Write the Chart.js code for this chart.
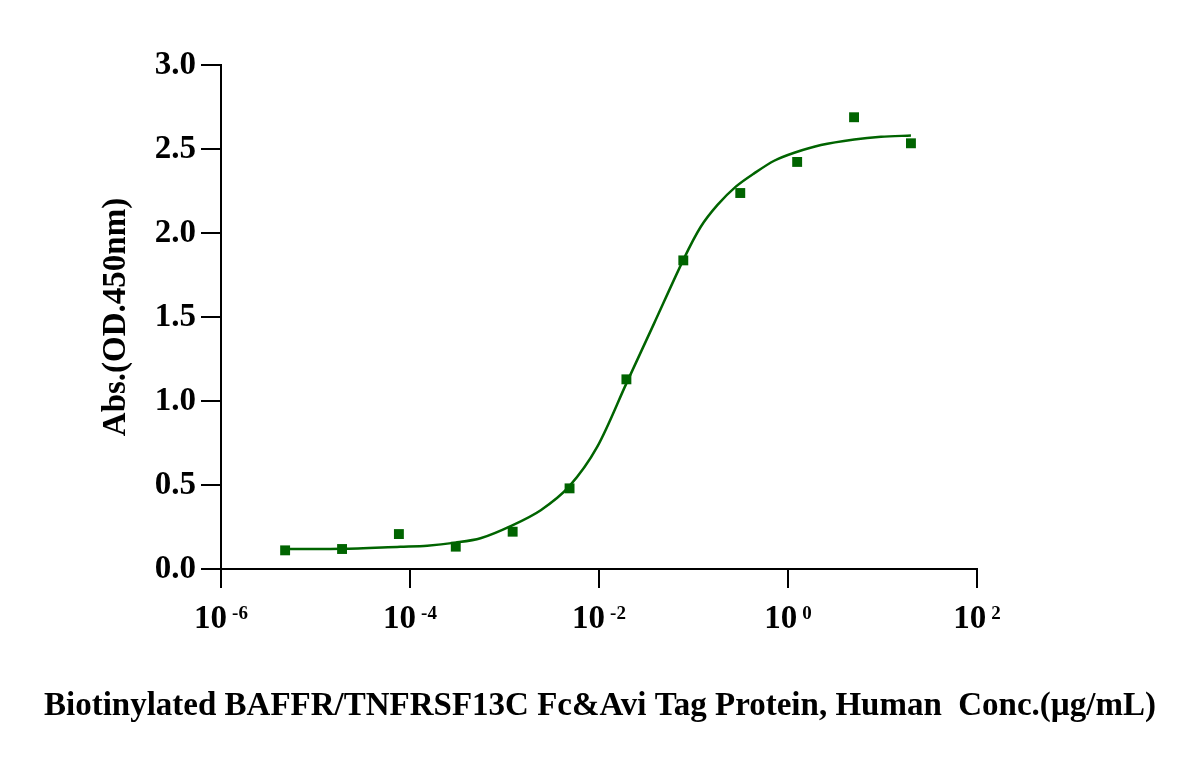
<!DOCTYPE html>
<html>
<head>
<meta charset="utf-8">
<script src="https://cdn.jsdelivr.net/npm/chart.js@4.4.1/dist/chart.umd.min.js"></script>
<style>
  html, body { margin: 0; padding: 0; background: #fff; }
  #wrap { width: 1200px; height: 765px; }
</style>
</head>
<body>
<div id="wrap"><canvas id="elisaChart" width="1200" height="765"></canvas></div>
<script>
// ---- DATA ----
// measured points: 4-fold dilution series, ug/mL
const concentrations = [4.77e-6, 1.91e-5, 7.63e-5, 3.05e-4, 1.22e-3, 4.88e-3, 0.0195, 0.078, 0.3125, 1.25, 5, 20];
const absorbance = [0.111, 0.119, 0.208, 0.133, 0.222, 0.480, 1.129, 1.837, 2.238, 2.423, 2.689, 2.534];

// fitted curve, sampled along the drawn line
const curveConc = [4.8e-6, 1.91e-5, 7.9e-5, 1.52e-4, 3.03e-4, 5.57e-4, 1.21e-3, 2.42e-3, 4.81e-3, 9.6e-3, 0.0195, 0.0383,
                   0.0794, 0.1194, 0.1795, 0.2805, 0.4385, 0.714, 1.164, 2.23, 5.02, 9.64, 20];
const curveAbs = [0.119, 0.120, 0.133, 0.139, 0.157, 0.183, 0.260, 0.350, 0.490, 0.728, 1.105, 1.462,
                  1.849, 2.037, 2.167, 2.276, 2.355, 2.430, 2.478, 2.524, 2.557, 2.573, 2.580];

// axis ticks
const xTickValues = [1e-6, 1e-4, 1e-2, 1, 100];
const xTickExponents = ['-6', '-4', '-2', '0', '2'];
const yTickValues = [0, 0.5, 1.0, 1.5, 2.0, 2.5, 3.0];

const X_TITLE = 'Biotinylated BAFFR/TNFRSF13C Fc&Avi Tag Protein, Human  Conc.(\u00b5g/mL)';
const Y_TITLE = 'Abs.(OD.450nm)';

// ---- STYLE ----
const GREEN = '#006400';
const FAMILY = "'Liberation Serif', 'Times New Roman', serif";

// x tick labels with superscript exponent (10^n) + the long x title
// (scale titles get squeezed to the axis width, so it is drawn here)
const xAxisText = {
  id: 'xAxisText',
  afterDraw(chart) {
    const scale = chart.scales.x;
    const ctx = chart.ctx;
    const baseY = scale.top + 59;
    ctx.save();
    ctx.fillStyle = '#000';
    ctx.textAlign = 'left';
    ctx.textBaseline = 'alphabetic';
    scale.ticks.forEach((tick, i) => {
      const px = scale.getPixelForValue(tick.value);
      ctx.font = 'bold 33px ' + FAMILY;
      const wBase = ctx.measureText('10').width;
      ctx.font = 'bold 19px ' + FAMILY;
      const exp = xTickExponents[i];
      const wExp = ctx.measureText(exp).width;
      const gap = 5;
      const start = px - (wBase + gap + wExp) / 2;
      ctx.font = 'bold 33px ' + FAMILY;
      ctx.fillText('10', start, baseY);
      ctx.font = 'bold 19px ' + FAMILY;
      ctx.fillText(exp, start + wBase + gap, baseY - 9);
    });
    // axis title, centred on the canvas
    ctx.font = 'bold 33px ' + FAMILY;
    ctx.textAlign = 'center';
    ctx.fillText(X_TITLE, chart.width / 2, 715);
    ctx.restore();
  }
};

const ctx = document.getElementById('elisaChart').getContext('2d');
new Chart(ctx, {
  type: 'scatter',
  data: {
    datasets: [
      {
        label: 'fit',
        data: curveConc.map((c, i) => ({ x: c, y: curveAbs[i] })),
        showLine: true,
        borderColor: GREEN,
        borderWidth: 2.5,
        pointRadius: 0,
        tension: 0.3,
        fill: false,
      },
      {
        label: 'measured',
        data: concentrations.map((c, i) => ({ x: c, y: absorbance[i] })),
        showLine: false,
        pointStyle: 'rect',
        pointRadius: 7,
        backgroundColor: GREEN,
        borderColor: GREEN,
        borderWidth: 0,
      }
    ]
  },
  options: {
    responsive: false,
    animation: false,
    devicePixelRatio: 1,
    layout: { padding: { top: 65, right: 223, left: 0, bottom: 0 } },
    plugins: {
      legend: { display: false },
      tooltip: { enabled: false },
    },
    scales: {
      x: {
        type: 'logarithmic',
        position: 'bottom',
        min: 1e-6,
        max: 100,
        afterBuildTicks: (s) => { s.ticks = xTickValues.map(v => ({ value: v })); },
        afterFit: (s) => { s.height = 196; },
        grid: { drawOnChartArea: false, drawTicks: true, tickLength: 19, color: '#000', lineWidth: 2 },
        border: { display: true, color: '#000', width: 2 },
        ticks: { display: false },
        title: { display: false },
      },
      y: {
        min: 0,
        max: 3,
        afterBuildTicks: (s) => { s.ticks = yTickValues.map(v => ({ value: v })); },
        afterFit: (s) => { s.width = 221; },
        grid: { drawOnChartArea: false, drawTicks: true, tickLength: 20, color: '#000', lineWidth: 2 },
        border: { display: true, color: '#000', width: 2 },
        ticks: {
          color: '#000',
          padding: 5,
          font: { family: FAMILY, size: 33, weight: 'bold' },
          callback: (v) => Number(v).toFixed(1),
        },
        title: {
          display: true,
          text: Y_TITLE,
          color: '#000',
          font: { family: FAMILY, size: 33, weight: 'bold' },
          padding: { top: 97, bottom: 0 },
        },
      },
    },
  },
  plugins: [xAxisText],
});
</script>
</body>
</html>
